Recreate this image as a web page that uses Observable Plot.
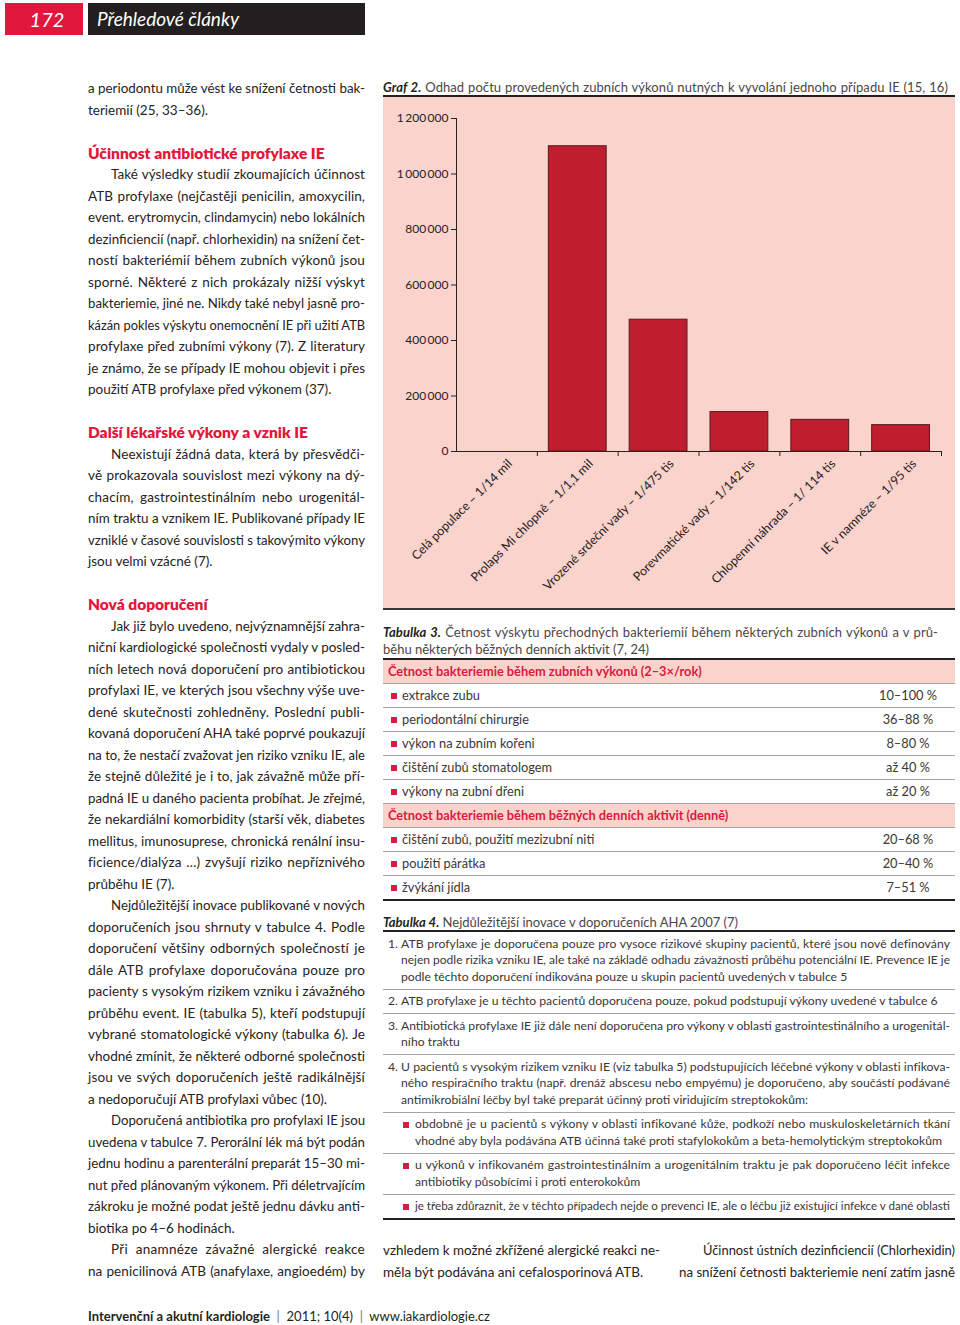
<!DOCTYPE html>
<html lang="cs">
<head>
<meta charset="utf-8">
<script src="https://cdn.jsdelivr.net/npm/d3@7"></script>
<script src="https://cdn.jsdelivr.net/npm/@observablehq/plot@0.6"></script>
<style>
html,body{margin:0;padding:0;background:#fff;}
body{width:960px;height:1325px;position:relative;overflow:hidden;font-family:Lato,"Open Sans",sans-serif;color:#262223;}
.abs{position:absolute;}
.ln{white-space:nowrap;box-sizing:content-box;}
.ln>span{white-space:nowrap;display:inline-block;}
.h{color:#e2173e;font-weight:800;font-size:15.5px;}
.tbl .row{height:23px;line-height:23px;border-bottom:1px solid #a5a5a5;position:relative;font-size:12.8px;color:#3a3637;}
.tbl .hd{background:#f9d3cc;color:#d81b3e;font-weight:700;padding-left:5px;}
.sq{position:absolute;width:6px;height:6px;background:#d81b3e;}
.t4 .blk{padding:3.5px 0;border-bottom:1px solid #a5a5a5;position:relative;font-size:12.2px;line-height:16.5px;color:#3a3637;}
</style>
</head>
<body>
<div class="abs" style="left:5px;top:3px;width:78px;height:32px;background:#e2173e;color:#fff;font-style:italic;font-size:20px;line-height:32px;text-align:center;padding-left:6px;box-sizing:border-box;">172</div>
<div class="abs" style="left:88px;top:3px;width:277px;height:32px;background:#231f20;color:#fff;font-style:italic;font-size:19px;line-height:32px;padding-left:9px;box-sizing:border-box;">Přehledové články</div>

<div id="left" class="abs" style="left:88px;top:78.25px;width:277px;font-size:13.5px;line-height:21.5px;"></div>
<div id="mid" class="abs" style="left:383px;top:1240.25px;width:277px;font-size:13.5px;line-height:21.5px;"></div>
<div id="right" class="abs" style="left:679px;top:1240.25px;width:276px;font-size:13.5px;line-height:21.5px;"></div>

<!-- Graf 2 -->
<div id="graftitle" class="abs" style="left:383px;top:79px;font-size:13px;line-height:16px;color:#4a4647;"></div>
<div class="abs" style="left:383px;top:95px;width:572px;height:2px;background:#231f20;"></div>
<div id="chart" class="abs" style="left:383px;top:97px;width:572px;height:511px;"></div>
<div class="abs" style="left:383px;top:608px;width:572px;height:2px;background:#3a3536;"></div>

<!-- Tabulka 3 -->
<div id="t3" class="abs tbl" style="left:383px;top:623.5px;width:572px;">
  <div id="t3title" style="font-size:13px;line-height:17px;color:#4a4647;"></div>
  <div style="height:2px;background:#231f20;"></div>
  <div id="t3rows"></div>
</div>

<!-- Tabulka 4 -->
<div id="t4" class="abs t4" style="left:383px;top:914px;width:572px;">
  <div id="t4title" style="font-size:13px;line-height:16px;color:#4a4647;"></div>
  <div style="height:2px;background:#231f20;"></div>
  <div id="t4rows"></div>
</div>

<div id="footer" class="abs" style="left:88px;top:1307px;font-size:13px;line-height:18px;color:#231f20;white-space:nowrap;"></div>

<script>
// ---------- Chart data (Graf 2) ----------
const categories = [
  "Celá populace – 1/14 mil",
  "Prolaps Mi chlopně – 1/1,1 mil",
  "Vrozené srdeční vady – 1/475 tis",
  "Porevmatické vady – 1/142 tis",
  "Chlopenní náhrada – 1/ 114 tis",
  "IE v namnéze – 1/95 tis"
];
// first category (14 mil) lies far outside the axis and is not drawn in the original
const procedures = [null, 1100000, 475000, 142000, 114000, 95000];
const yTicks = [0, 200000, 400000, 600000, 800000, 1000000, 1200000];
const yMax = 1200000;

// ---------- Page text ----------
const leftColumn = [
"j|a periodontu může vést ke snížení četnosti bak-",
"l|teriemií (25, 33–36).",
"b|",
"h|Účinnost antibiotické profylaxe IE",
"i|Také výsledky studií zkoumajících účinnost",
"j|ATB profylaxe (nejčastěji penicilin, amoxycilin,",
"j|event. erytromycin, clindamycin) nebo lokálních",
"j|dezinficiencií (např. chlorhexidin) na snížení čet-",
"j|ností bakteriémií během zubních výkonů jsou",
"j|sporné. Některé z nich prokázaly nižší výskyt",
"j|bakteriemie, jiné ne. Nikdy také nebyl jasně pro-",
"j|kázán pokles výskytu onemocnění IE při užití ATB",
"j|profylaxe před zubními výkony (7). Z literatury",
"j|je známo, že se případy IE mohou objevit i přes",
"l|použití ATB profylaxe před výkonem (37).",
"b|",
"h|Další lékařské výkony a vznik IE",
"i|Neexistují žádná data, která by přesvědči-",
"j|vě prokazovala souvislost mezi výkony na dý-",
"j|chacím, gastrointestinálním nebo urogenitál-",
"j|ním traktu a vznikem IE. Publikované případy IE",
"j|vzniklé v časové souvislosti s takovýmito výkony",
"l|jsou velmi vzácné (7).",
"b|",
"h|Nová doporučení",
"i|Jak již bylo uvedeno, nejvýznamnější zahra-",
"j|niční kardiologické společnosti vydaly v posled-",
"j|ních letech nová doporučení pro antibiotickou",
"j|profylaxi IE, ve kterých jsou všechny výše uve-",
"j|dené skutečnosti zohledněny. Poslední publi-",
"j|kovaná doporučení AHA také poprvé poukazují",
"j|na to, že nestačí zvažovat jen riziko vzniku IE, ale",
"j|že stejně důležité je i to, jak závažně může pří-",
"j|padná IE u daného pacienta probíhat. Je zřejmé,",
"j|že nekardiální komorbidity (starší věk, diabetes",
"j|mellitus, imunosuprese, chronická renální insu-",
"j|ficience/dialýza …) zvyšují riziko nepříznivého",
"l|průběhu IE (7).",
"i|Nejdůležitější inovace publikované v nových",
"j|doporučeních jsou shrnuty v tabulce 4. Podle",
"j|doporučení většiny odborných společností je",
"j|dále ATB profylaxe doporučována pouze pro",
"j|pacienty s vysokým rizikem vzniku i závažného",
"j|průběhu event. IE (tabulka 5), kteří podstupují",
"j|vybrané stomatologické výkony (tabulka 6). Je",
"j|vhodné zmínit, že některé odborné společnosti",
"j|jsou ve svých doporučeních ještě radikálnější",
"l|a nedoporučují ATB profylaxi vůbec (10).",
"i|Doporučená antibiotika pro profylaxi IE jsou",
"j|uvedena v tabulce 7. Perorální lék má být podán",
"j|jednu hodinu a parenterální preparát 15–30 mi-",
"j|nut před plánovaným výkonem. Při déletrvajícím",
"j|zákroku je možné podat ještě jednu dávku anti-",
"l|biotika po 4–6 hodinách.",
"i|Při anamnéze závažné alergické reakce",
"j|na penicilinová ATB (anafylaxe, angioedém) by"
];
const midColumn = [
"j|vzhledem k možné zkřížené alergické reakci ne-",
"l|měla být podávána ani cefalosporinová ATB."
];
const rightColumn = [
"i|Účinnost ústních dezinficiencií (Chlorhexidin)",
"j|na snížení četnosti bakteriemie není zatím jasně"
];

const t3Sections = [
  {head: "Četnost bakteriemie během zubních výkonů (2–3×/rok)",
   rows: [["extrakce zubu","10–100 %"],["periodontální chirurgie","36–88 %"],["výkon na zubním kořeni","8–80 %"],["čištění zubů stomatologem","až 40 %"],["výkony na zubní dřeni","až 20 %"]]},
  {head: "Četnost bakteriemie během běžných denních aktivit (denně)",
   rows: [["čištění zubů, použití mezizubní niti","20–68 %"],["použití párátka","20–40 %"],["žvýkání jídla","7–51 %"]]}
];

const t4Items = [
  {n: "1.", lines: ["ATB profylaxe je doporučena pouze pro vysoce rizikové skupiny pacientů, které jsou nově definovány",
    "nejen podle rizika vzniku IE, ale také na základě odhadu závažnosti průběhu potenciální IE. Prevence IE je",
    "podle těchto doporučení indikována pouze u skupin pacientů uvedených v tabulce 5"]},
  {n: "2.", lines: ["ATB profylaxe je u těchto pacientů doporučena pouze, pokud podstupují výkony uvedené v tabulce 6"]},
  {n: "3.", lines: ["Antibiotická profylaxe IE již dále není doporučena pro výkony v oblasti gastrointestinálního a urogenitál-",
    "ního traktu"]},
  {n: "4.", lines: ["U pacientů s vysokým rizikem vzniku IE (viz tabulka 5) podstupujících léčebné výkony v oblasti infikova-",
    "ného respiračního traktu (např. drenáž abscesu nebo empyému) je doporučeno, aby součástí podávané",
    "antimikrobiální léčby byl také preparát účinný proti viridujícím streptokokům:"]},
  {n: "■", lines: ["obdobně je u pacientů s výkony v oblasti infikované kůže, podkoží nebo muskuloskeletárních tkání",
    "vhodné aby byla podávána ATB účinná také proti stafylokokům a beta-hemolytickým streptokokům"]},
  {n: "■", lines: ["u výkonů v infikovaném gastrointestinálním a urogenitálním traktu je pak doporučeno léčit infekce",
    "antibiotiky působícími i proti enterokokům"]},
  {n: "■", lines: ["je třeba zdůraznit, že v těchto případech nejde o prevenci IE, ale o léčbu již existující infekce v dané oblasti"]}
];

// ---------- line fitting helpers ----------
const fits = [];
function line(parent, html, width, justify, style) {
  const d = document.createElement("div");
  d.className = "ln";
  d.style.width = width + "px";
  if (style) Object.assign(d.style, style);
  const s = document.createElement("span");
  s.innerHTML = html;
  d.appendChild(s);
  parent.appendChild(d);
  fits.push([s, width, justify]);
  return d;
}
function doFit() {
  for (const [s, w, j] of fits) {
    s.style.wordSpacing = "";
    s.style.letterSpacing = "";
    s.style.transform = "";
    let nat = s.getBoundingClientRect().width;
    if (nat > w + 0.5) {
      s.style.transformOrigin = "0 50%";
      s.style.transform = `scaleX(${w / nat})`;
    } else if (j) {
      const chars = s.textContent.length;
      const ls = Math.min(0.3, (w - nat) * 0.5 / chars);
      s.style.letterSpacing = ls + "px";
      nat = s.getBoundingClientRect().width;
      const n = (s.textContent.match(/ /g) || []).length;
      if (n && nat < w) s.style.wordSpacing = ((w - nat) / n) + "px";
    }
  }
}
const headWidths = {"Účinnost antibiotické profylaxe IE": 264, "Další lékařské výkony a vznik IE": 248, "Nová doporučení": 133};
function column(el, lines, width, indent) {
  for (const entry of lines) {
    const k = entry[0], t = entry.slice(2);
    if (k === "b") { const d = document.createElement("div"); d.style.height = "21.5px"; el.appendChild(d); }
    else if (k === "h") { const d = line(el, t, headWidths[t] || width, false); d.classList.add("h"); }
    else if (k === "i") line(el, t, width - indent, true, {paddingLeft: indent + "px"});
    else line(el, t, width, k === "j");
  }
}
column(document.getElementById("left"), leftColumn, 277, 23);
column(document.getElementById("mid"), midColumn, 277, 23);
column(document.getElementById("right"), rightColumn, 276, 24);

// Graf 2 title
line(document.getElementById("graftitle"),
  '<b style="font-style:italic;color:#231f20">Graf 2.</b> Odhad počtu provedených zubních výkonů nutných k vyvolání jednoho případu IE (15, 16)', 565, true);

// Tabulka 3
const t3t = document.getElementById("t3title");
line(t3t, '<b style="font-style:italic;color:#231f20">Tabulka 3.</b> Četnost výskytu přechodných bakteriemií během některých zubních výkonů a v prů-', 555, true);
line(t3t, 'běhu některých běžných denních aktivit (7, 24)', 555, false);
const t3r = document.getElementById("t3rows");
t3Sections.forEach((sec, si) => {
  const h = document.createElement("div");
  h.className = "row hd"; h.textContent = sec.head; t3r.appendChild(h);
  sec.rows.forEach(([label, val], ri) => {
    const r = document.createElement("div");
    r.className = "row";
    r.innerHTML = `<span class="sq" style="left:8px;top:9px"></span><span style="position:absolute;left:19px">${label}</span><span style="position:absolute;left:485px;width:80px;text-align:center">${val}</span>`;
    if (si === t3Sections.length - 1 && ri === sec.rows.length - 1) r.style.borderBottom = "2px solid #231f20";
    t3r.appendChild(r);
  });
});

// Tabulka 4
line(document.getElementById("t4title"), '<b style="font-style:italic;color:#231f20">Tabulka 4.</b> Nejdůležitější inovace v doporučeních AHA 2007 (7)', 565, false);
const t4r = document.getElementById("t4rows");
t4Items.forEach((it, ii) => {
  const b = document.createElement("div");
  b.className = "blk";
  const sub = it.n === "■";
  const left = sub ? 32 : 18;
  const w = 950 - 383 - left;
  if (sub) {
    const q = document.createElement("span"); q.className = "sq"; q.style.left = "20px"; q.style.top = "9px"; b.appendChild(q);
  } else {
    const n = document.createElement("span"); n.textContent = it.n; n.style.position = "absolute"; n.style.left = "5px"; b.appendChild(n);
  }
  it.lines.forEach((t, li) => {
    const last = li === it.lines.length - 1;
    const justify = !last || (it.lines.length === 1 && t.length > 100);
    line(b, t, w, justify, {marginLeft: left + "px"});
  });
  if (ii === t4Items.length - 1) b.style.borderBottom = "2px solid #231f20";
  t4r.appendChild(b);
});

// footer
document.getElementById("footer").innerHTML =
  '<b>Intervenční a akutní kardiologie</b> <span style="color:#777">&nbsp;|&nbsp;</span> 2011; 10(4) <span style="color:#777">&nbsp;|&nbsp;</span> www.iakardiologie.cz';

// ---------- Chart ----------
const rows = categories.map((label, i) => ({i, label, value: procedures[i]}));
const fmt = d => d3.format(",")(d).replace(/,/g, "\u2009");

const chart = Plot.plot({
  width: 572,
  height: 511,
  marginLeft: 73,
  marginRight: 14,
  marginTop: 21,
  marginBottom: 157,
  style: {background: "#f9d3cc", fontFamily: "Lato, 'Open Sans', sans-serif", fontSize: "12px", color: "#2a2122", overflow: "visible"},
  x: {type: "linear", domain: [0, categories.length], ticks: d3.range(1, categories.length + 1), tickFormat: () => "", tickSize: 5, line: true, label: null},
  y: {domain: [0, yMax], ticks: yTicks, tickFormat: fmt, tickSize: 5, tickPadding: 3, line: true, label: null},
  marks: [
    Plot.rectY(rows, {x1: d => d.i, x2: d => d.i + 1, y: "value", insetLeft: 11.5, insetRight: 11.5, fill: "#be1e2d", stroke: "#561a1f", strokeWidth: 1}),
    Plot.text(rows, {x: d => d.i + 0.5, frameAnchor: "bottom", text: "label", rotate: -45, textAnchor: "end", dx: 16, dy: 13, fontSize: 12.4, fill: "#2a2122"})
  ]
});
document.getElementById("chart").appendChild(chart);

doFit();
if (document.fonts && document.fonts.ready) document.fonts.ready.then(doFit);
</script>
</body>
</html>
